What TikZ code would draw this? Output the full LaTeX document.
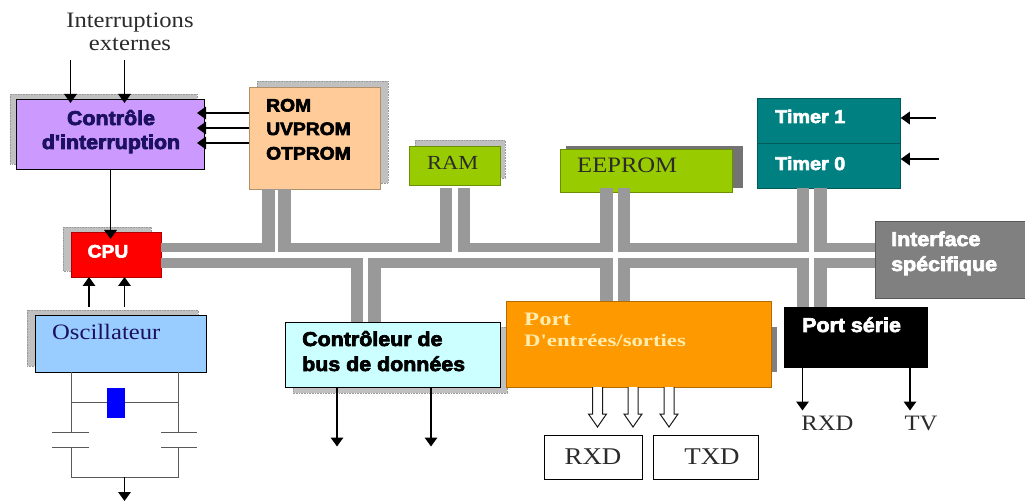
\documentclass[tikz,border=0pt]{standalone}
\usepackage{fontspec}
\usetikzlibrary{arrows.meta}
\newfontfamily\hv[BoldFeatures={FakeBold=3.5,FakeStretch=1.07}]{Liberation Sans}
\newfontfamily\tm[FakeStretch=1.12,BoldFeatures={FakeStretch=1.3}]{Liberation Serif}
\definecolor{cPurple}{HTML}{CC99FF}
\definecolor{cRom}{HTML}{FFCC99}
\definecolor{cOsc}{HTML}{99CCFF}
\definecolor{cCtl}{HTML}{CCFFFF}
\definecolor{cPort}{HTML}{FF9900}
\definecolor{cGreen}{HTML}{99CC00}
\definecolor{cTimer}{HTML}{008080}
\definecolor{cGrey}{HTML}{808080}
\definecolor{cBus}{HTML}{999999}
\definecolor{cShadow}{HTML}{C0C0C0}
\definecolor{cNavy}{HTML}{1C1060}
\definecolor{cText}{HTML}{2B2B2B}
\definecolor{cCream}{HTML}{FFEDB0}
\tikzset{
  x=1pt,y=-1pt,
  box/.style={draw=#1!70!black,line width=.8pt,inner sep=0pt,outer sep=0pt},
  box/.default=black,
  shade/.style={fill=cShadow,draw=gray!80,densely dotted,line width=.6pt},
  hvtxt/.style={inner sep=0pt,text height=14pt,text depth=0pt,font=\hv\bfseries\fontsize{20}{24}\selectfont},
  romtxt/.style={inner sep=0pt,text height=13pt,text depth=0pt,font=\hv\bfseries\fontsize{18}{22}\selectfont},
  tmtxt/.style={inner sep=0pt,text height=14pt,text depth=0pt,text=cText,font=\tm\fontsize{22}{26}\selectfont},
  vbus/.style={draw=cBus,line width=12.5pt},
  hbus/.style={draw=cBus,line width=9.5pt},
  arr/.style={draw=black,line width=1.7pt,-{Triangle[width=12.5pt,length=9pt]}},
  wire/.style={draw=black!65,line width=1pt},
  hollow/.style={draw=black!90,line width=1pt,fill=white,line join=miter},
}
\begin{document}
\begin{tikzpicture}
\useasboundingbox (0,0) rectangle (1025,502);
\clip (0,0) rectangle (1025,502);

% shadows
\path[shade] (10,94) rectangle (197,164);
\path[shade] (257,81) rectangle (388,183);
\path[shade] (63,227) rectangle (151,271);
\path[shade] (27,310) rectangle (198,366);
\path[shade] (293,327) rectangle (507,393);
\path[shade] (415,140) rectangle (505,178);
\fill[black!55] (566,146) rectangle (743,188);
\fill[black!50] (700,327) rectangle (777,372);

% boxes
\node[box,fill=cPurple,minimum width=188pt,minimum height=70pt] (ctrl) at (110,134) {};
\node[box=cRom,fill=cRom,minimum width=131pt,minimum height=102pt] (rom) at (314.5,138) {};
\node[box=red,fill=red,minimum width=90pt,minimum height=45pt] (cpu) at (116,254.5) {};
\node[box,fill=cOsc,minimum width=171pt,minimum height=57pt] (osc) at (120.5,343.5) {};
\node[box,fill=cCtl,minimum width=215pt,minimum height=65pt] (ctlr) at (392.5,354.5) {};
\node[box=cPort,fill=cPort,minimum width=265pt,minimum height=86pt] (port) at (638.5,344) {};
\node[box,fill=black,minimum width=143pt,minimum height=60pt] (serie) at (855.5,337) {};
\node[box=cGreen,fill=cGreen,minimum width=91pt,minimum height=39pt] (ram) at (454.5,165.5) {};
\node[box=cGreen,fill=cGreen,minimum width=172pt,minimum height=43pt] (eeprom) at (646,170.5) {};
\node[box=cTimer,fill=cTimer,minimum width=143.5pt,minimum height=45pt] (timerA) at (829,120.5) {};
\node[box=cTimer,fill=cTimer,minimum width=143.5pt,minimum height=45pt] (timerB) at (829,165.5) {};
\node[box=cGrey,fill=cGrey,minimum width=150pt,minimum height=77pt] (iface) at (950,259.5) {};
\node[box,fill=white,minimum width=98pt,minimum height=44pt,text=cText,font=\tm\fontsize{24}{28}\selectfont] (rxdbox) at (593,457) {RXD};
\node[box,fill=white,minimum width=105pt,minimum height=44pt,text=cText,font=\tm\fontsize{24}{28}\selectfont] (txdbox) at (705.5,457) {\hspace*{13pt}TXD};

% bus reference coordinates
\coordinate (ub) at (0,247.5);
\coordinate (ubEnd) at (0,252);
\coordinate (lb) at (0,263);
\coordinate (lbTop) at (0,258);
\coordinate (vtop) at (0,188);
\coordinate (romL) at (268.25,0);
\coordinate (romR) at (284.5,0);
\coordinate (ramL) at (446,0);
\coordinate (ramR) at (464,0);
\coordinate (eeL) at (606.5,0);
\coordinate (eeR) at (624,0);
\coordinate (tiL) at (803,0);
\coordinate (tiR) at (820.5,0);
\coordinate (ctL) at (357,0);
\coordinate (ctR) at (374.5,0);

% upper bus
\draw[hbus] (cpu.east |- ub) -- ([xshift=6.25pt]romL |- ub);
\draw[hbus] ([xshift=-6.25pt]romR |- ub) -- ([xshift=6.25pt]ramL |- ub);
\draw[hbus] ([xshift=-6.25pt]ramR |- ub) -- ([xshift=6.25pt]eeL |- ub);
\draw[hbus] ([xshift=-6.25pt]eeR |- ub) -- ([xshift=6.25pt]tiL |- ub);
\draw[hbus] ([xshift=-6.25pt]tiR |- ub) -- (iface.west |- ub);
\draw[vbus] (romL |- rom.south) -- (romL |- ubEnd);
\draw[vbus] (romR |- rom.south) -- (romR |- ubEnd);
\draw[vbus] (ramL |- vtop) -- (ramL |- ubEnd);
\draw[vbus] (ramR |- vtop) -- (ramR |- ubEnd);
\draw[vbus] (eeL |- vtop) -- (eeL |- ubEnd);
\draw[vbus] (eeR |- vtop) -- (eeR |- ubEnd);
\draw[vbus] (tiL |- vtop) -- (tiL |- ubEnd);
\draw[vbus] (tiR |- vtop) -- (tiR |- ubEnd);
% lower bus
\draw[hbus] (cpu.east |- lb) -- ([xshift=6.25pt]ctL |- lb);
\draw[hbus] ([xshift=-6.25pt]ctR |- lb) -- ([xshift=6.25pt]eeL |- lb);
\draw[hbus] ([xshift=-6.25pt]eeR |- lb) -- ([xshift=6.25pt]tiL |- lb);
\draw[hbus] ([xshift=-6.25pt]tiR |- lb) -- (iface.west |- lb);
\draw[vbus] (ctL |- lbTop) -- (ctL |- ctlr.north);
\draw[vbus] (ctR |- lbTop) -- (ctR |- ctlr.north);
\draw[vbus] (eeL |- lbTop) -- (eeL |- port.north);
\draw[vbus] (eeR |- lbTop) -- (eeR |- port.north);
\draw[vbus] (tiL |- lbTop) -- (tiL |- serie.north);
\draw[vbus] (tiR |- lbTop) -- (tiR |- serie.north);

% arrows
\coordinate (intA) at (70.5,60);
\coordinate (intB) at (124.5,60);
\coordinate (intTipA) at (70.5,103);
\coordinate (intTipB) at (124.5,103);
\draw[arr] (intA) -- (intTipA);
\draw[arr] (intB) -- (intTipB);
\coordinate (rA) at (197,113);
\coordinate (rB) at (197,128);
\coordinate (rC) at (197,143);
\draw[arr] (rom.west |- rA) -- (rA);
\draw[arr] (rom.west |- rB) -- (rB);
\draw[arr] (rom.west |- rC) -- (rC);
\coordinate (cpuTip) at (110.5,239);
\draw[arr] (cpuTip |- ctrl.south) -- (cpuTip);
\coordinate (oA) at (89,307);
\coordinate (oB) at (124.5,307);
\draw[arr] (oA) -- (oA |- cpu.south);
\draw[arr] (oB) -- (oB |- cpu.south);
\coordinate (tA) at (936,118);
\coordinate (tB) at (939,159);
\draw[arr] (tA) -- (timerA.east |- tA);
\draw[arr] (tB) -- (timerB.east |- tB);
\coordinate (cA) at (337,446.5);
\coordinate (cB) at (431,446.5);
\draw[arr] (cA |- ctlr.south) -- (cA);
\draw[arr] (cB |- ctlr.south) -- (cB);
\coordinate (sA) at (802.5,410.5);
\coordinate (sB) at (910,410.5);
\draw[arr] (sA |- serie.south) -- (sA);
\draw[arr] (sB |- serie.south) -- (sB);

% hollow arrows
\foreach \ax in {597.5,633,669}{
  \draw[hollow] ({\ax-5},387) -- ({\ax-5},414) -- ({\ax-9},414) -- (\ax,427) -- ({\ax+9},414) -- ({\ax+5},414) -- ({\ax+5},387);
}

% oscillator circuit
\coordinate (wL) at (71,0);
\coordinate (wR) at (178,0);
\coordinate (xt) at (0,402.5);
\coordinate (cT) at (0,432);
\coordinate (cB2) at (0,447);
\coordinate (bot) at (0,477);
\coordinate (outTip) at (124.5,501);
\draw[wire] (wL |- osc.south) -- (wL |- cT);
\draw[wire] (wR |- osc.south) -- (wR |- cT);
\draw[wire] (wL |- xt) -- (wR |- xt);
\draw[wire] ([xshift=-19pt]wL |- cT) -- ([xshift=18pt]wL |- cT);
\draw[wire] ([xshift=-19pt]wL |- cB2) -- ([xshift=18pt]wL |- cB2);
\draw[wire] ([xshift=-17pt]wR |- cT) -- ([xshift=19pt]wR |- cT);
\draw[wire] ([xshift=-17pt]wR |- cB2) -- ([xshift=19pt]wR |- cB2);
\draw[wire] (wL |- cB2) -- (wL |- bot) -- (wR |- bot) -- (wR |- cB2);
\draw[arr] (outTip |- bot) -- (outTip);
\fill[blue] (107,388) rectangle (124.5,418);

% texts
\node[tmtxt] (tInt) at (130,21) {Interruptions};
\node[tmtxt] (tExt) at (130,44) {externes};
\node[hvtxt,text=cNavy] (tC1) at (111,118) {Contrôle};
\node[hvtxt,text=cNavy] (tC2) at (111,142) {d'interruption};
\node[romtxt,anchor=west] (tR1) at (266,105) {ROM};
\node[romtxt,anchor=west] (tR2) at (266,128.5) {UVPROM};
\node[romtxt,anchor=west] (tR3) at (266,153) {OTPROM};
\node[romtxt,text=white] (tCpu) at (108,251) {CPU};
\node[tmtxt,anchor=west,text=cNavy] (tOsc) at (52,333) {Oscillateur};
\node[tmtxt,anchor=west,font=\tm\fontsize{20}{24}\selectfont] (tRam) at (427,163) {RAM};
\node[tmtxt,anchor=west] (tEe) at (577,166) {EEPROM};
\node[hvtxt,anchor=west,text=white,font=\hv\bfseries\fontsize{18.5}{23}\selectfont] (tT1) at (775,116) {Timer 1};
\node[hvtxt,anchor=west,text=white,font=\hv\bfseries\fontsize{18.5}{23}\selectfont] (tT0) at (775,163) {Timer 0};
\node[hvtxt,anchor=west,text=white] (tI1) at (891,239) {Interface};
\node[hvtxt,anchor=west,text=white] (tI2) at (891,264) {spécifique};
\node[hvtxt,anchor=west] (tD1) at (302,339) {Contrôleur de};
\node[hvtxt,anchor=west] (tD2) at (302,364) {bus de données};
\node[tmtxt,anchor=west,text=cCream,font=\tm\bfseries\fontsize{19}{22}\selectfont] (tP1) at (524,319) {Port};
\node[tmtxt,anchor=west,text=cCream,font=\tm\bfseries\fontsize{17.5}{20}\selectfont] (tP2) at (524,340) {D'entrées/sorties};
\node[hvtxt,anchor=west,text=white] (tS) at (802,325) {Port série};
\node[tmtxt] (tRx) at (827.5,423) {RXD};
\node[tmtxt] (tTv) at (921,423) {TV};
\end{tikzpicture}
\end{document}
